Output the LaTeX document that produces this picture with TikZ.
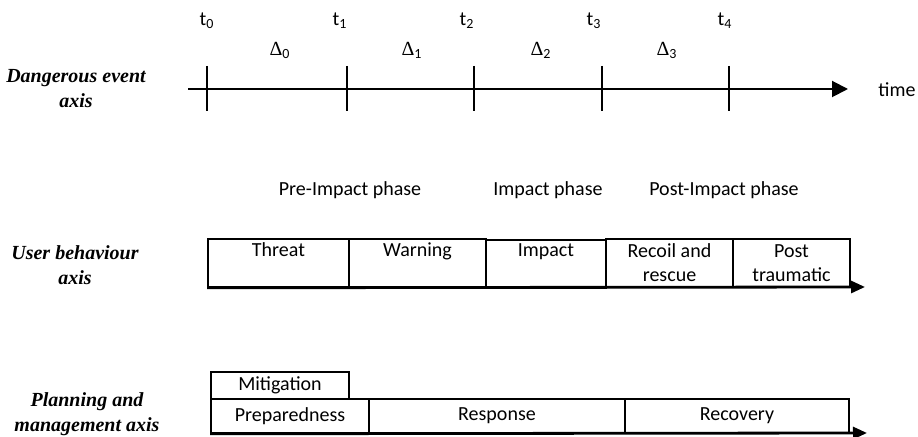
\documentclass[tikz,border=0pt]{standalone}
\usepackage{fontspec}
\setmainfont{Carlito}
\newfontfamily\tnr{Liberation Serif}
\usetikzlibrary{arrows.meta}
\begin{document}
\begin{tikzpicture}[x=0.5pt,y=-0.5pt,
  every node/.style={font=\fontsize{10}{12}\selectfont, inner sep=0pt},
  axislabel/.style={font=\fontsize{10}{12.5}\selectfont\tnr\bfseries\itshape, align=center},
  box/.style={draw, line width=0.8pt, align=center, minimum height=24pt},
  pbox/.style={draw, line width=0.8pt, align=center},
  tick/.style={line width=1pt},
  bigarrow/.style={line width=1pt, -{Triangle[length=8pt,width=8pt]}},
  smallarrow/.style={line width=1.4pt, -{Triangle[length=7pt,width=6pt]}}]
\useasboundingbox (0,0) rectangle (918,437);

% Dangerous event axis
\node[axislabel] (dea) at (76,89) {Dangerous event\\axis};
\coordinate (a0) at (188,89);
\coordinate (a1) at (848,89);
\draw[bigarrow] (a0) -- (a1);
\node[anchor=west] (time) at (878,90) {time};
\foreach \x/\i in {207/0,347/1,474/2,602/3,729/4}{
  \coordinate (tt\i) at (\x,66);
  \coordinate (tb\i) at (\x,111);
  \draw[tick] (tt\i) -- (tb\i);
}
\node (t0) at (207,21) {t\textsubscript{0}};
\node (t1) at (340,21) {t\textsubscript{1}};
\node (t2) at (467,21) {t\textsubscript{2}};
\node (t3) at (594,21) {t\textsubscript{3}};
\node (t4) at (725,21) {t\textsubscript{4}};
\node (d0) at (280,50) {{\tnr Δ}\textsubscript{0}};
\node (d1) at (412,50) {{\tnr Δ}\textsubscript{1}};
\node (d2) at (541,50) {{\tnr Δ}\textsubscript{2}};
\node (d3) at (667,50) {{\tnr Δ}\textsubscript{3}};

% phases
\node (pre) at (350,190) {Pre-Impact phase};
\node (imp) at (548,190) {Impact phase};
\node (post) at (724,190) {Post-Impact phase};

% User behaviour axis
\node[axislabel] (uba) at (75,265) {User behaviour\\axis};
\node[box, minimum width=70.5pt] (threat) at (278.5,263) {Threat\\\phantom{g}};
\node[box, minimum width=68.5pt] (warning) at (417.5,263) {Warning\\\phantom{g}};
\node[box, minimum width=60pt] (impact) at (546,264) {Impact\\\phantom{g}};
\node[box, minimum width=63.5pt] (recoil) at (669.5,263) {Recoil and\\rescue};
\node[box, minimum width=58.5pt] (posttr) at (791.5,263) {Post\\traumatic};
\coordinate (ua) at (865,287);
\draw[smallarrow] (threat.south west) -- (ua);

% Planning and management axis
\node[axislabel] (pma) at (87,414) {Planning and\\management axis};
\node[pbox, minimum width=69pt, minimum height=13.5pt] (mit) at (280,385.5) {Mitigation};
\node[pbox, minimum width=79pt, minimum height=17pt] (prep) at (290,416) {Preparedness};
\node[pbox, minimum width=128pt, minimum height=17pt] (resp) at (497,416) {Response};
\node[pbox, minimum width=112pt, minimum height=17pt] (reco) at (737,416) {Recovery};
\coordinate (pa) at (867,433);
\draw[smallarrow] (prep.south west) -- (pa);
\end{tikzpicture}
\end{document}
